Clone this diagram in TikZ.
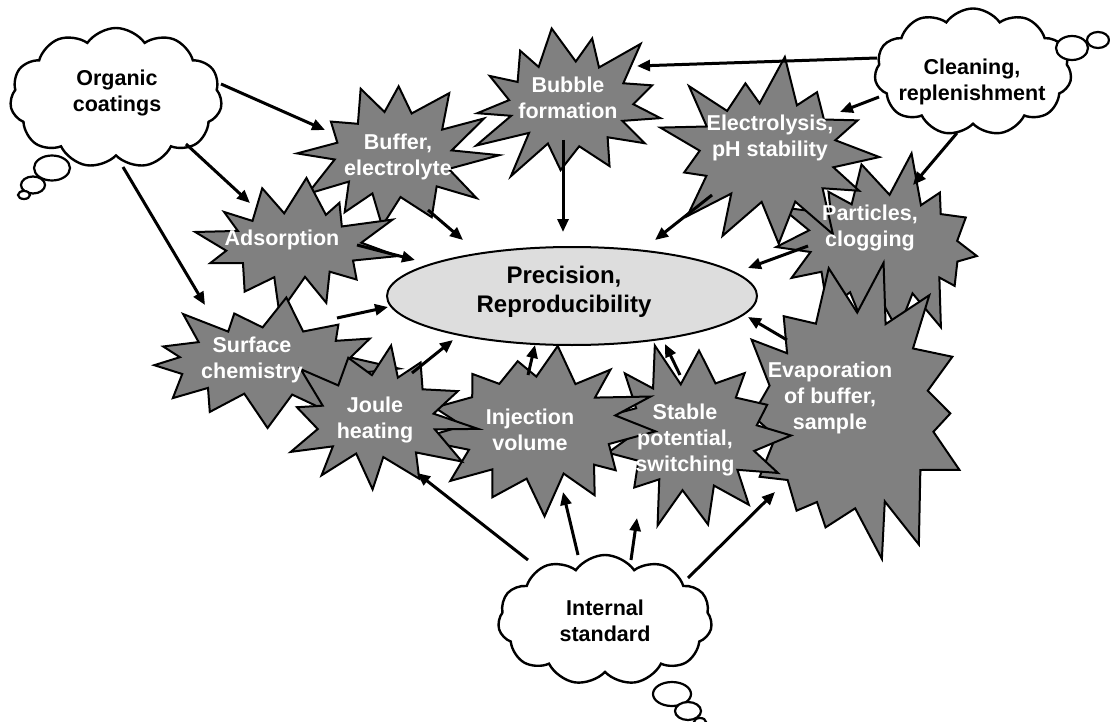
\documentclass[tikz,border=0pt]{standalone}
\usepackage{fontspec}
\setmainfont{Liberation Sans}
\usetikzlibrary{shapes.symbols,shapes.geometric,arrows.meta,calc}
\definecolor{burstgray}{HTML}{808080}
\definecolor{ellgray}{HTML}{DDDDDD}
% #1 cx, #2 cy, #3 outer rx, #4 outer ry, #5 inner rx, #6 inner ry, #7 points, #8 rotation, #9 seed
\newcommand\mystar[9]{%
  \pgfmathsetseed{#9}%
  \pgfmathtruncatemacro\nn{2*#7-1}%
  \foreach \k in {0,...,\nn}{%
    \pgfmathsetmacro\ang{\k*180/#7+#8+10*(rnd-0.5)}%
    \pgfmathsetmacro\fac{isodd(\k) ? (0.92+0.12*rnd) : (0.72+0.28*rnd)}%
    \pgfmathsetmacro\rrx{isodd(\k) ? #5 : #3}%
    \pgfmathsetmacro\rry{isodd(\k) ? #6 : #4}%
    \coordinate (sp\k) at ({#1+\fac*\rrx*cos(\ang)},{#2+\fac*\rry*sin(\ang)});
  }%
  \draw[burst] (sp0) \foreach \k in {1,...,\nn}{ -- (sp\k)} -- cycle;
}
\begin{document}
\begin{tikzpicture}[x=1pt,y=-1pt,
  burst/.style={draw=black, fill=burstgray, line width=2pt, line join=miter, miter limit=20},
  btext/.style={text=white, font=\fontsize{21.5}{26}\selectfont\bfseries, align=center, inner sep=0pt},
  ctext/.style={text=black, font=\fontsize{21.5}{26}\selectfont\bfseries, align=center, inner sep=0pt},
  thought/.style={cloud, cloud puffs=11, cloud puff arc=110, aspect=1.5, draw=black, fill=white, line width=2.4pt},
  bubl/.style={ellipse, draw=black, fill=white, line width=2.2pt, inner sep=0pt},
  arr/.style={line width=3pt, -{Triangle[length=13pt,width=11pt]}}
]
\useasboundingbox (0,0) rectangle (1110,722);

% clouds
\node[thought, minimum width=212pt, minimum height=140pt] (orgC) at (116,98) {};
\node[bubl, minimum width=36pt, minimum height=25pt] (orgB1) at (52,168) {};
\node[bubl, minimum width=24pt, minimum height=17pt] (orgB2) at (33,185) {};
\node[bubl, minimum width=12pt, minimum height=8pt] (orgB3) at (24,195) {};
\node[ctext] (org) at (117,93) {Organic\\coatings};

\node[thought, minimum width=197pt, minimum height=127pt] (clnC) at (973,72) {};
\node[bubl, minimum width=32pt, minimum height=24pt] (clnB1) at (1072,48) {};
\node[bubl, minimum width=22pt, minimum height=16pt] (clnB2) at (1098,40) {};
\node[ctext] (cln) at (972,82) {Cleaning,\\replenishment};

\node[thought, minimum width=214pt, minimum height=130pt] (intC) at (605,620) {};
\node[bubl, minimum width=38pt, minimum height=24pt] (intB1) at (672,694) {};
\node[bubl, minimum width=26pt, minimum height=18pt] (intB2) at (688,711) {};
\node[bubl, minimum width=12pt, minimum height=8pt] (intB3) at (700,722) {};
\node[ctext] (int) at (605,621) {Internal\\standard};

% central ellipse
\node[ellipse, draw=black, fill=ellgray, line width=2pt, minimum width=370pt, minimum height=98pt] (precE) at (572,296) {};
\node[ctext, font=\fontsize{24}{29}\selectfont\bfseries] (prec) at (564,292) {Precision,\\Reproducibility};

% starbursts
\mystar{882}{246}{114}{98}{76}{50}{14}{3}{53}
\mystar{770}{153}{122}{100}{72}{50}{13}{0}{37}
\mystar{569}{104}{114}{86}{64}{42}{13}{10}{11}
\mystar{395}{155}{106}{82}{62}{42}{12}{5}{23}
\mystar{294}{246}{110}{72}{66}{34}{12}{8}{41}
\mystar{265}{362}{142}{70}{90}{34}{13}{6}{61}
\mystar{852}{415}{122}{158}{84}{100}{14}{0}{71}
\mystar{692}{435}{112}{100}{66}{56}{13}{0}{97}
\mystar{537}{428}{126}{94}{78}{50}{13}{4}{101}
\mystar{378}{418}{104}{82}{60}{42}{12}{5}{83}

\node[btext] (bub) at (568,98) {Bubble\\formation};
\node[btext] (buf) at (398,157) {Buffer,\\electrolyte};
\node[btext] (ele) at (770,138) {Electrolysis,\\pH stability};
\node[btext] (ads) at (282,240) {Adsorption};
\node[btext] (par) at (870,228) {Particles,\\clogging};
\node[btext] (sur) at (252,360) {Surface\\chemistry};
\node[btext] (eva) at (830,398) {Evaporation\\of buffer,\\sample};
\node[btext] (jou) at (375,420) {Joule\\heating};
\node[btext] (sta) at (685,440) {Stable\\potential,\\switching};
\node[btext] (inj) at (530,430) {Injection\\volume};

% arrows
\draw[arr] ($(org)+(104,-9)$) -- ($(buf)+(-73,-27)$);
\draw[arr] ($(org)+(69,51)$) -- ($(ads)+(-32,-37)$);
\draw[arr] ($(org)+(6,74)$) -- ($(sur)+(-47,-55)$);
\draw[arr] ($(cln)+(-95,-24)$) -- ($(bub)+(69,-32)$);
\draw[arr] ($(cln)+(-93,15)$) -- ($(ele)+(70,-26)$);
\draw[arr] ($(cln)+(-15,51)$) -- ($(par)+(43,-43)$);
\draw[arr] ($(bub)+(-5,42)$) -- ($(prec)+(-1,-60)$);
\draw[arr] ($(buf)+(30,53)$) -- ($(prec)+(-101,-52)$);
\draw[arr] ($(ele)+(-58,57)$) -- ($(prec)+(91,-52)$);
\draw[arr] ($(ads)+(75,5)$) -- ($(prec)+(-149,-32)$);
\draw[arr] ($(sur)+(85,-42)$) -- ($(prec)+(-176,15)$);
\draw[arr] ($(jou)+(37,-47)$) -- ($(prec)+(-111,48)$);
\draw[arr] ($(inj)+(-2,-55)$) -- ($(prec)+(-29,53)$);
\draw[arr] ($(sta)+(-5,-65)$) -- ($(prec)+(101,52)$);
\draw[arr] ($(eva)+(-43,-58)$) -- ($(prec)+(184,25)$);
\draw[arr] ($(par)+(-62,18)$) -- ($(prec)+(184,-24)$);
\draw[arr] ($(int)+(-77,-61)$) -- ($(jou)+(42,53)$);
\draw[arr] ($(int)+(-27,-66)$) -- ($(inj)+(33,62)$);
\draw[arr] ($(int)+(26,-61)$) -- ($(sta)+(-48,78)$);
\draw[arr] ($(int)+(83,-43)$) -- ($(eva)+(-55,94)$);
\end{tikzpicture}
\end{document}
